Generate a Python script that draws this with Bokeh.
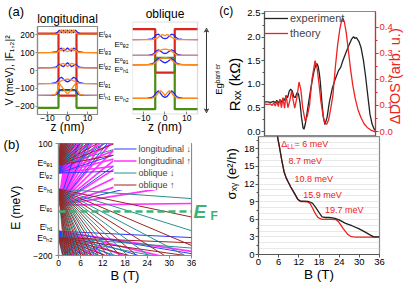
import math
from bokeh.plotting import figure
from bokeh.layouts import row, column
from bokeh.models import (Range1d, LinearAxis, FixedTicker, Label, Legend,
                          LegendItem, Arrow, VeeHead, BoxAnnotation,
                          PrintfTickFormatter)
from bokeh.embed import file_html
from bokeh.resources import INLINE

# ---------------- panel (a) data ----------------
z_grid = [-15, -8, -6, -5, -4, -3, -2, -1, 0, 1, 2, 3, 4, 5, 6, 8, 15]
band_z = [-15, -4.5, -4.5, 4.5, 4.5, 15]
long_cb = [205, 205, -140, -140, 205, 205]
long_vb = [-208, -208, -110, -110, -208, -208]
obl_cb = [205, 205, -24, -24, 205, 205]
obl_vb = [-217, -217, 54, 54, -217, -217]

long_levels = [203, 100, 15, -73, -138]
long_label_V = [198, 108, 20, -76, -142]
long_sub = ["e4", "e3", "e2", "e1", "h1"]
long_F1 = [
    [0, 0, 0, 1, 8, 25, 4, 25, 4, 25, 4, 25, 8, 1, 0, 0, 0],
    [0, 0, 0, 3, 15, 10, 25, 10, 5, 10, 25, 10, 15, 3, 0, 0, 0],
    [0, 0, 0, 3, 12, 22, 25, 15, 8, 15, 25, 22, 12, 3, 0, 0, 0],
    [0, 0, 1, 4, 10, 16, 21, 24, 25, 24, 21, 16, 10, 4, 1, 0, 0],
    [0, 1, 5, 25, 65, 50, 35, 20, 8, 20, 35, 50, 65, 25, 5, 1, 0],
]
long_F2 = [
    [0, 1, 4, 10, 22, 6, 22, 6, 22, 6, 22, 6, 22, 10, 4, 1, 0],
    [0, 1, 3, 8, 18, 25, 8, 15, 25, 15, 8, 25, 18, 8, 3, 1, 0],
    [0, 1, 4, 10, 20, 12, 6, 18, 28, 18, 6, 12, 20, 10, 4, 1, 0],
    [0, 1, 5, 14, 30, 35, 25, 15, 10, 15, 25, 35, 30, 14, 5, 1, 0],
    [0, 0, 2, 10, 28, 31, 31, 31, 31, 31, 31, 31, 28, 10, 2, 0, 0],
]
obl_levels = [150, 66, 17, -160]
obl_label_V = [146, 57, 4, -157]
obl_sub = ["e2", "e1", "h1", "h2"]
obl_F1 = [
    [0, 0, 0, 2, 6, 12, 22, 26, 20, 26, 22, 12, 6, 2, 0, 0, 0],
    [0, 0, 1, 5, 14, 22, 28, 32, 33, 32, 28, 22, 14, 5, 1, 0, 0],
    [0, 0, 1, 6, 16, 25, 32, 36, 38, 36, 32, 25, 16, 6, 1, 0, 0],
    [0, 0, 1, 5, 15, 30, 40, 30, 15, 30, 40, 30, 15, 5, 1, 0, 0],
]
obl_F2 = [
    [0, 1, 4, 12, 25, 28, 18, 8, 5, 8, 18, 28, 25, 12, 4, 1, 0],
    [0, 1, 4, 12, 25, 30, 22, 14, 10, 14, 22, 30, 25, 12, 4, 1, 0],
    [0, 1, 4, 12, 26, 32, 24, 15, 10, 15, 24, 32, 26, 12, 4, 1, 0],
    [0, 1, 5, 14, 30, 40, 25, 10, 5, 10, 25, 40, 30, 14, 5, 1, 0],
]
v_ticks = [-200, -100, 0, 100, 200]
z_ticks = [-10, 0, 10]
Eg_z = 19.15
Eg_top = 210
Eg_bottom = -236

# ---------------- panel (b) data ----------------
b_ticks = [0, 6, 12, 18, 24, 30, 36]
e_ticks = [100, -200]
b_label_E = [47, 15, -22, -72, -123, -152]
b_label_sup = ["o", "l", "o", "l", "l", "o"]
b_label_sub = ["e1", "e2", "h1", "e1", "h1", "h2"]
E_F = -82
B_MAX = 36.0
fan_oe1_E0 = 42
fan_oe1_red = [1.8, 3.8, 5.5, 7.5, 9.5, 12, 14.5, 17.5, 21, 25, 30, 36, 44, 55, 70, 95, 140]
fan_oe1_teal = [2.8, 4.6, 6.5, 8.5, 10.8, 13.2, 16, 19, 23, 27.5, 33, 40, 49, 62, 80, 115]
fan_le2_E0 = 21
fan_le2_mag = [1.2, 2.5, 4, 5.5, 7, 8.5, 10, 12, 14, 16.5, 19.5, 23, 27, 32, 38, 46, 57, 72, 95]
fan_le2_blue = [0.3, 3.2, 6.3, 9.6, 13.5, 18.5, 25, 34, 48]
fan_oh1_E0 = -22
fan_oh1_teal = [-0.71, -3.1, -5.2, -7.3, -9.5, -12, -15, -18.5, -22.5, -27, -33, -40, -50, -63, -80, -110]
fan_oh1_red = [-2.08, -4.2, -6.2, -8.4, -10.7, -13.4, -16.5, -20, -24.5, -29.5, -36, -44, -55, -70, -92]
fan_le1_E0 = -65
fan_le1_mag = [0.12, 1.6, 3.2, 4.8, 6.4, 8, 9.8, 11.7, 13.8, 16, 18.5, 21.5, 25, 29, 34, 40, 48, 58, 72]
fan_le1_blue = [2.4, 7, 12.5, 20, 31]
fan_lh1_E0 = -135
fan_lh1_blue = [-0.47, -1.67, -3, -4.5, -6, -8, -10.5, -14, -19, -26, -36, -52]
fan_lh1_mag = [-1.5, -2.4, -3.7, -5.2, -7, -9.2, -12, -16, -22, -30, -44]
fan_oh2_E0 = -152
fan_oh2_red = [-0.39, -1.4, -2.5, -3.8, -5.3, -7, -9.5, -13, -18, -25, -38]
fan_oh2_teal = [-0.78, -1.9, -3.1, -4.5, -6.1, -8.2, -11, -15, -21, -30, -45]

# ---------------- panel (c) data ----------------
B_rxx_exp = [0, 1, 2, 3, 3.5, 4, 4.5, 5, 5.5, 6, 6.5, 7, 7.5, 8, 8.5, 9, 9.5, 10, 10.5, 11,
             11.5, 12, 12.5, 12.8, 13.2, 13.7, 14.2, 14.7, 15.2, 15.7, 16.1, 16.6, 17, 17.4,
             17.8, 18.1, 18.6, 19.1, 19.6, 20.3, 21, 22, 23, 24, 24.7, 25.4, 26.4, 27.4, 28.2,
             28.9, 29.3, 29.8, 30.6, 31.3, 32.1, 32.8, 33.6, 34.2, 34.9, 35.5, 36]
rxx_exp = [0.63, 0.63, 0.62, 0.64, 0.61, 0.66, 0.60, 0.67, 0.62, 0.70, 0.66, 0.76, 0.72, 0.85,
           0.90, 0.86, 0.74, 0.72, 0.82, 0.80, 0.62, 0.30, 0.08, 0.05, 0.15, 0.35, 0.57, 0.78,
           0.98, 1.16, 1.29, 1.40, 1.44, 1.38, 1.22, 1.05, 0.64, 0.30, 0.15, 0.30, 0.61, 0.92,
           1.12, 1.29, 1.36, 1.50, 1.67, 1.83, 1.95, 2.01, 1.97, 1.99, 1.91, 1.78, 1.50, 1.16,
           0.71, 0.37, 0.16, 0.06, 0.02]
B_dos = [0, 1, 2, 2.5, 3, 3.5, 4, 4.5, 5, 5.5, 6, 6.5, 7, 7.6, 8.2, 8.8, 9.3, 9.8, 10.5, 11.2,
         11.8, 12.4, 13.2, 13.9, 14.6, 15.4, 16.4, 17.1, 17.7, 18.3, 19, 19.6, 20.2, 20.8, 21.5,
         22.2, 23, 23.7, 24.4, 25, 25.4, 25.9, 26.5, 27.2, 27.9, 28.6, 29.4, 30.3, 31.3, 32.3,
         33.3, 34.5, 35.7, 36]
dos_th = [0.105, 0.104, 0.106, 0.100, 0.110, 0.098, 0.116, 0.096, 0.124, 0.092, 0.130, 0.090,
          0.140, 0.092, 0.118, 0.155, 0.12, 0.09, 0.13, 0.19, 0.16, 0.09, 0.041, 0.06, 0.10,
          0.20, 0.272, 0.24, 0.18, 0.115, 0.06, 0.032, 0.028, 0.045, 0.09, 0.14, 0.25, 0.33,
          0.39, 0.425, 0.434, 0.42, 0.38, 0.31, 0.24, 0.18, 0.128, 0.085, 0.053, 0.03, 0.016,
          0.006, 0.0, 0.0]
B_sxy_exp = [5.4, 5.8, 6.3, 7.0, 7.6, 8.2, 8.8, 9.6, 10.7, 11.7, 12.2, 12.7, 13.5, 14.7, 15.5,
             16.1, 16.9, 17.6, 18.3, 18.9, 20.0, 21.0, 22.5, 24.0, 25.9, 27.8, 29.8, 31.5, 33.3,
             34.3, 36.0]
sxy_exp = [21.0, 19.6, 18.1, 15.8, 14.1, 13.1, 12.4, 11.5, 10.4, 9.4, 9.2, 9.1, 9.1, 9.05, 8.9,
           8.7, 8.1, 7.5, 6.9, 6.4, 6.3, 6.3, 6.2, 5.9, 5.3, 4.9, 4.4, 3.9, 3.3, 3.0, 3.0]
B_sxy_th = [5.4, 5.8, 6.3, 7.0, 7.6, 8.2, 8.8, 9.6, 10.7, 11.7, 12.2, 12.7, 13.5, 14.6, 15.3,
            16.0, 16.6, 17.1, 17.6, 18.3, 19.0, 20.0, 21.0, 22.0, 23.0, 23.8, 24.5, 25.2, 25.9,
            26.6, 27.4, 28.2, 29.0, 36.0]
sxy_th = [21.0, 19.6, 18.1, 15.8, 14.1, 13.1, 12.4, 11.5, 10.4, 9.4, 9.1, 9.0, 9.0, 8.95, 8.7,
          8.0, 7.3, 6.8, 6.4, 6.1, 6.0, 6.0, 6.0, 6.0, 5.95, 5.6, 5.0, 4.4, 3.9, 3.4, 3.1, 3.0,
          2.95, 2.95]
rxx_ticks = [0, 0.5, 1, 1.5, 2, 2.5]
rxx_minor = [0.25, 0.75, 1.25, 1.75, 2.25]
dos_ticks = [0, 0.1, 0.2, 0.3, 0.4]
dos_minor = [0.05, 0.15, 0.25, 0.35]
sxy_ticks = [0, 3, 6, 9, 12, 15, 18]
sxy_minor = [1.5, 4.5, 7.5, 10.5, 13.5, 16.5, 19.5]
sxy_grid = list(range(1, 21))
dll_text = ["8.7 meV", "10.8 meV", "15.9 meV", "19.7 meV"]
dll_B = [8.9, 10.7, 13.3, 19.8]
dll_S = [15.9, 12.9, 10.2, 7.5]

# ---------------- styling ----------------
FONT = "Liberation Sans"
AX = "#8a8a8a"
RED_BAND = "#d8281e"
GREEN_BAND = "#4c8c14"
ORANGE = "#ff8a1c"
BLUE = "#2222ff"
C_BLUE = "#2b3bff"
C_MAG = "#ff33ff"
C_TEAL = "#2a9090"
C_DRED = "#9a2424"
C_EF = "#3cb371"
EXP_C = "#222222"
TH_C = "#ee2222"
HALF_PI = math.pi / 2
NB = "\u00a0"
SUP = {"l": "\u02e1", "o": "\u1d52"}
SUB = {"e": "\u2091", "h": "\u2095", "1": "\u2081", "2": "\u2082", "3": "\u2083", "4": "\u2084"}


def ename(sup, sub):
    return "E" + SUP[sup] + "".join(SUB[c] for c in sub)


def mkfig(w, h, l, r, t, b, xr, yr, **kw):
    p = figure(width=w, height=h, x_range=Range1d(*xr), y_range=Range1d(*yr),
               output_backend="svg", toolbar_location=None, title=None,
               min_border_left=l, min_border_right=r, min_border_top=t,
               min_border_bottom=b, **kw)
    try:
        p.frame_align = False
    except Exception:
        pass
    p.grid.visible = False
    p.outline_line_color = AX
    p.outline_line_width = 1.2
    p.background_fill_color = "white"
    p.border_fill_color = "white"
    return p


def sty(ax, size="8.5px", color="black", line=AX, tin=0, tout=3, standoff=1):
    ax.axis_line_color = line
    ax.axis_line_width = 1.2
    ax.major_tick_line_color = line
    ax.minor_tick_line_color = line
    ax.major_tick_out = tout
    ax.major_tick_in = tin
    ax.minor_tick_out = 2 if tout else 0
    ax.minor_tick_in = 2 if tin else 0
    ax.major_label_text_font = FONT
    ax.major_label_text_font_size = size
    ax.major_label_text_color = color
    ax.major_label_standoff = standoff


def title_of(ax, text, size, standoff, color="black"):
    ax.axis_label = text
    ax.axis_label_text_font = FONT
    ax.axis_label_text_font_size = f"{size}px"
    ax.axis_label_text_font_style = "normal"
    ax.axis_label_text_color = color
    ax.axis_label_standoff = standoff


def text_axis(p, side, ticks, labels, size, color="black", style="normal", standoff=1,
              orientation=None):
    ax = LinearAxis(ticker=FixedTicker(ticks=list(ticks)),
                    major_label_overrides={t: s for t, s in zip(ticks, labels)})
    ax.axis_line_color = None
    ax.major_tick_out = 0
    ax.major_tick_in = 0
    ax.minor_tick_out = 0
    ax.minor_tick_in = 0
    ax.major_label_text_font = FONT
    ax.major_label_text_font_size = f"{size}px"
    ax.major_label_text_color = color
    ax.major_label_text_font_style = style
    ax.major_label_standoff = standoff
    if orientation is not None:
        ax.major_label_orientation = orientation
    p.add_layout(ax, side)
    return ax


# ---------------- panel (a) longitudinal ----------------
pa1 = mkfig(131, 136, 32, 29, 21, 21, (-15, 15), (-245, 245))
pa1.yaxis.ticker = FixedTicker(ticks=v_ticks)
pa1.xaxis.ticker = FixedTicker(ticks=z_ticks)
sty(pa1.xaxis[0], tin=3, tout=0, standoff=0)
sty(pa1.yaxis[0], tout=2)
title_of(pa1.yaxis[0], "V (meV), |F\u2081,\u2082|\u00b2", 10.5, -3)
pa1.line(band_z, long_cb, line_color=RED_BAND, line_width=2.2)
pa1.line(band_z, long_vb, line_color=GREEN_BAND, line_width=2.2)
for E, f1, f2 in zip(long_levels, long_F1, long_F2):
    pa1.line(z_grid, [E + v for v in f2], line_color=BLUE, line_width=1.3)
    pa1.line(z_grid, [E + v for v in f1], line_color=ORANGE, line_width=1.3)
text_axis(pa1, "below", [0], ["z (nm)"], 12, standoff=-4)
text_axis(pa1, "right", long_label_V, [ename("l", s) for s in long_sub], 8, standoff=1)
text_axis(pa1, "right", obl_label_V, [ename("o", s) for s in obl_sub], 8, standoff=0)
text_axis(pa1, "above", [0], ["longitudinal"], 12, standoff=1)
text_axis(pa1, "above", [-14.9], ["(a)" + NB * 12], 13, standoff=-10)

# ---------------- panel (a) oblique ----------------
pa2 = mkfig(78, 136, 1, 0, 21, 21, (-15, 20.54), (-245, 245), y_axis_location=None)
pa2.outline_line_color = None
pa2.xaxis.ticker = FixedTicker(ticks=z_ticks)
sty(pa2.xaxis[0], tin=3, tout=0, standoff=0)
pa2.xaxis.axis_line_color = None
pa2.add_layout(BoxAnnotation(left=-15, right=15, top=243, bottom=-243, fill_color=None,
                             fill_alpha=0, line_color=AX, line_width=1.2))
pa2.line(band_z, obl_cb, line_color=RED_BAND, line_width=2.2)
pa2.line(band_z, obl_vb, line_color=GREEN_BAND, line_width=2.2)
for E, f1, f2 in zip(obl_levels, obl_F1, obl_F2):
    pa2.line(z_grid, [E + v for v in f2], line_color=BLUE, line_width=1.3)
    pa2.line(z_grid, [E + v for v in f1], line_color=ORANGE, line_width=1.3)
pa2.add_layout(Arrow(start=VeeHead(size=4, line_color="#333333", line_width=1, fill_color=None),
                     end=VeeHead(size=4, line_color="#333333", line_width=1, fill_color=None),
                     x_start=Eg_z, y_start=Eg_top, x_end=Eg_z, y_end=Eg_bottom,
                     line_color="#333333", line_width=1))
text_axis(pa2, "below", [0], ["z (nm)"], 12, standoff=-4)
text_axis(pa2, "above", [0], ["oblique"], 12, standoff=1)

# ---------------- panel (c) top ----------------
pc1 = mkfig(205, 136, 48, 35, 8, 0, (0, 36), (-0.1033, 2.541), x_axis_location=None)
pc1.extra_y_ranges = {"dos": Range1d(-0.0187, 0.4598)}
pc1.yaxis.ticker = FixedTicker(ticks=rxx_ticks, minor_ticks=rxx_minor)
pc1.yaxis.formatter = PrintfTickFormatter(format="%.1f")
sty(pc1.yaxis[0], size="9.5px", line="#555555")
title_of(pc1.yaxis[0], "R\u2093\u2093 (k\u03a9)" + NB * 5, 15, 1)
eg_ax = LinearAxis(ticker=FixedTicker(ticks=[]), axis_line_color=None, major_tick_out=0,
                   minor_tick_out=0, major_label_standoff=0)
title_of(eg_ax, "Eg\u1d47\u1d43\u02b3\u02b3\u2071\u1d49\u02b3" + NB * 4, 9.5, 0)
pc1.add_layout(eg_ax, "left")
rax = LinearAxis(y_range_name="dos", ticker=FixedTicker(ticks=dos_ticks, minor_ticks=dos_minor),
                 formatter=PrintfTickFormatter(format="%.1f"))
sty(rax, size="9.5px", color=TH_C, line=TH_C)
pc1.add_layout(rax, "right")
text_axis(pc1, "right", [1.333], ["\u0394DOS (arb. u.)"], 14.5, color=TH_C, standoff=0,
          orientation=HALF_PI)
text_axis(pc1, "above", [0.01], ["(c)" + NB * 23], 12, standoff=-6)
r_exp = pc1.line(B_rxx_exp, rxx_exp, line_color=EXP_C, line_width=1.3)
r_th = pc1.line(B_dos, dos_th, line_color=TH_C, line_width=1.3, y_range_name="dos")
legc = Legend(items=[LegendItem(label="experiment", renderers=[r_exp]),
                     LegendItem(label="theory", renderers=[r_th])],
              location="top_left", margin=0, padding=0, spacing=1, glyph_width=24,
              glyph_height=14, label_height=14, label_standoff=2, label_text_font=FONT,
              label_text_font_size="11px", background_fill_alpha=0, border_line_color=None)
pc1.add_layout(legc)

# ---------------- panel (b) ----------------
pb = mkfig(220, 149, 46, 28, 7, 29, (0, 36), (-200, 100))
pb.xaxis.ticker = FixedTicker(ticks=b_ticks)
sty(pb.xaxis[0])
title_of(pb.xaxis[0], "B (T)", 13, -1)
pb.yaxis.ticker = FixedTicker(ticks=e_ticks + b_label_E, minor_ticks=e_ticks)
pb.yaxis.major_label_overrides = {E: ename(a, b) for E, a, b in
                                  zip(b_label_E, b_label_sup, b_label_sub)}
sty(pb.yaxis[0], tout=0, standoff=3)
pb.yaxis.minor_tick_out = 3
title_of(pb.yaxis[0], "E (meV)" + NB * 5, 12, 7)
text_axis(pb, "left", [100], ["(b)"], 13, standoff=-13)
text_axis(pb, "right", [E_F], ["E"], 19, color=C_EF, style="bold italic", standoff=2)
text_axis(pb, "right", [E_F - 11], ["F"], 12, color=C_EF, style="bold", standoff=1)


def fan(E0, slopes):
    return ([[0.0, B_MAX] for _ in slopes], [[E0, E0 + s * B_MAX] for s in slopes])


mag_x, mag_y, blu_x, blu_y, tea_x, tea_y, red_x, red_y = [], [], [], [], [], [], [], []
for E0, sl in [(fan_le2_E0, fan_le2_mag), (fan_le1_E0, fan_le1_mag), (fan_lh1_E0, fan_lh1_mag)]:
    xs, ys = fan(E0, sl); mag_x += xs; mag_y += ys
for E0, sl in [(fan_le2_E0, fan_le2_blue), (fan_le1_E0, fan_le1_blue), (fan_lh1_E0, fan_lh1_blue)]:
    xs, ys = fan(E0, sl); blu_x += xs; blu_y += ys
for E0, sl in [(fan_oe1_E0, fan_oe1_teal), (fan_oh1_E0, fan_oh1_teal), (fan_oh2_E0, fan_oh2_teal)]:
    xs, ys = fan(E0, sl); tea_x += xs; tea_y += ys
for E0, sl in [(fan_oe1_E0, fan_oe1_red), (fan_oh1_E0, fan_oh1_red), (fan_oh2_E0, fan_oh2_red)]:
    xs, ys = fan(E0, sl); red_x += xs; red_y += ys

r_mag = pb.multi_line(mag_x, mag_y, line_color=C_MAG, line_width=1.7)
r_blu = pb.multi_line(blu_x, blu_y, line_color=C_BLUE, line_width=1.0)
r_tea = pb.multi_line(tea_x, tea_y, line_color=C_TEAL, line_width=1.0)
r_red = pb.multi_line(red_x, red_y, line_color=C_DRED, line_width=1.0)
pb.line([0, B_MAX], [E_F, E_F], line_color=C_EF, line_width=2.5, line_dash="7 4")
legb = Legend(items=[LegendItem(label="longitudinal \u2193", renderers=[r_blu]),
                     LegendItem(label="longitudinal \u2191", renderers=[r_mag]),
                     LegendItem(label="oblique \u2193", renderers=[r_tea]),
                     LegendItem(label="oblique \u2191", renderers=[r_red])],
              location="top_right", margin=0, padding=1, spacing=1, glyph_width=23,
              glyph_height=11, label_height=11, label_standoff=2, label_text_font=FONT,
              label_text_font_size="9px", background_fill_color="white",
              background_fill_alpha=1.0, border_line_color=None)
pb.add_layout(legb)

# ---------------- panel (c) bottom ----------------
pc2 = mkfig(194, 149, 37, 35, 0, 31, (0, 36), (0, 20.1))
pc2.ygrid.visible = True
pc2.ygrid.ticker = FixedTicker(ticks=sxy_grid)
pc2.ygrid.grid_line_color = "#e2e2e2"
pc2.ygrid.grid_line_width = 0.8
pc2.xaxis.ticker = FixedTicker(ticks=b_ticks)
pc2.yaxis.ticker = FixedTicker(ticks=sxy_ticks, minor_ticks=sxy_minor)
sty(pc2.xaxis[0], size="9.5px", line="#555555")
sty(pc2.yaxis[0], size="9.5px", line="#555555")
title_of(pc2.xaxis[0], "B (T)", 13.5, -1)
title_of(pc2.yaxis[0], NB * 12 + "\u03c3\u2093\u1d67 (e\u00b2/h)", 13, 2)
pc2.line(B_sxy_th, sxy_th, line_color=TH_C, line_width=1.3)
pc2.line(B_sxy_exp, sxy_exp, line_color=EXP_C, line_width=1.3)
pc2.add_layout(Label(x=6.8, y=18.9, text="\u0394", text_font=FONT, text_font_size="9px",
                     text_color=TH_C, text_baseline="middle"))
pc2.add_layout(Label(x=6.8, y=18.9, x_offset=6.0, y_offset=-2.5, text="LL", text_font=FONT,
                     text_font_size="6.5px", text_color=TH_C, text_baseline="middle"))
pc2.add_layout(Label(x=6.8, y=18.9, x_offset=13.2, text=" = 6 meV", text_font=FONT,
                     text_font_size="9px", text_color=TH_C, text_baseline="middle"))
for t, bx, sy in zip(dll_text, dll_B, dll_S):
    pc2.add_layout(Label(x=bx, y=sy, text=t, text_font=FONT, text_font_size="9px",
                         text_color=TH_C, text_baseline="middle"))

layout = column(row(pa1, pa2, pc1), row(pb, pc2))
open("out.html", "w").write(file_html(layout, INLINE))
